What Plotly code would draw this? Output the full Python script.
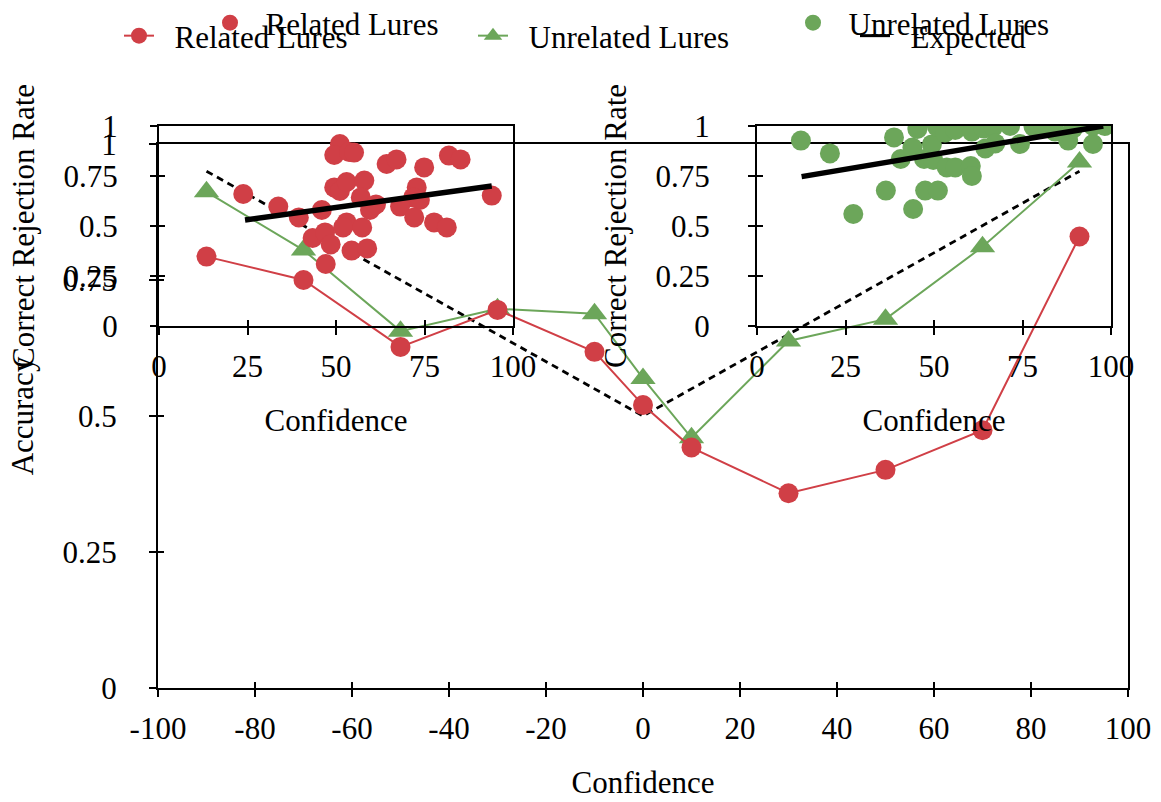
import plotly.graph_objects as go

# ---------------- data ----------------
confidence = [-90, -70, -50, -30, -10, 0, 10, 30, 50, 70, 90]
related_acc = [0.793, 0.750, 0.627, 0.695, 0.618, 0.520, 0.442, 0.358, 0.401, 0.474, 0.830]
unrelated_acc = [0.912, 0.805, 0.656, 0.697, 0.688, 0.569, 0.460, 0.638, 0.678, 0.811, 0.967]
expected_x = [-90, 0, 90]
expected_y = [0.95, 0.50, 0.95]

# inset 1: related lures, per-item confidence vs correct rejection rate
rel_conf = [23.8, 33.7, 39.5, 46.0, 43.4, 46.9, 48.5, 47.1, 51.1, 49.5, 53.7, 55.1,
            49.5, 51.1, 53.0, 58.0, 57.0, 59.6, 61.3, 53.0, 52.0, 57.4, 54.4, 58.8,
            64.3, 67.1, 74.9, 81.9, 85.2, 72.8, 71.8, 68.1, 73.7, 72.1, 77.7, 81.3, 94.0]
rel_crr = [0.660, 0.597, 0.543, 0.580, 0.440, 0.468, 0.408, 0.310, 0.910, 0.855, 0.870, 0.867,
           0.693, 0.675, 0.720, 0.727, 0.643, 0.580, 0.608, 0.518, 0.493, 0.493, 0.377, 0.388,
           0.810, 0.833, 0.793, 0.852, 0.833, 0.693, 0.643, 0.597, 0.630, 0.543, 0.518, 0.493, 0.652]
rel_fit_x = [24.3, 94.0]
rel_fit_y = [0.53, 0.70]

# inset 2: unrelated lures
unr_conf = [12.4, 20.6, 27.2, 36.4, 38.7, 40.6, 43.9, 44.1, 45.3, 47.2, 47.5, 49.4, 49.8,
            50.8, 51.1, 53.6, 56.0, 53.1, 56.0, 60.4, 60.7, 60.7, 64.0, 64.5, 66.8, 67.3,
            71.5, 74.3, 78.1, 80.9, 84.2, 87.9, 89.3, 94.9, 94.9, 98.2]
unr_crr = [0.927, 0.863, 0.560, 0.677, 0.943, 0.835, 0.892, 0.585, 0.985, 0.835, 0.677, 0.908, 0.830,
           0.997, 0.677, 0.793, 0.793, 0.967, 0.980, 0.800, 0.750, 0.972, 0.988, 0.888, 0.997, 0.913,
           1.000, 0.910, 0.997, 1.000, 0.972, 0.927, 0.988, 0.910, 1.000, 1.000]
unr_fit_x = [12.6, 97.8]
unr_fit_y = [0.747, 1.0]

x_tick_vals = [-100, -80, -60, -40, -20, 0, 20, 40, 60, 80, 100]
x_tick_labels = ["-100", "-80", "-60", "-40", "-20", "0", "20", "40", "60", "80", "100"]
inset_x_ticks = [0, 25, 50, 75, 100]
y_ticks = [0, 0.25, 0.5, 0.75, 1]

# ---------------- style ----------------
RED = "#D03F46"
GREEN = "#6CA65A"
FONT = "Liberation Serif"
FS = 31
NB = "\u00a0\u00a0"

W, H = 1161, 802
ML, MR, MT, MB = 158, 33, 126, 114
plot_w = W - ML - MR          # 970
plot_h = H - MT - MB          # 562


def px_x(px):
    return (px - ML) / plot_w


def px_y(py):
    return (H - MB - py) / plot_h


fig = go.Figure()

# main chart
fig.add_trace(go.Scatter(x=expected_x, y=expected_y, mode="lines", showlegend=False,
                         line=dict(color="black", width=2.8, dash="7px,5px"),
                         xaxis="x", yaxis="y"))
fig.add_trace(go.Scatter(x=[None], y=[None], mode="lines", name=NB + "Expected",
                         line=dict(color="black", width=3), legend="legend3",
                         xaxis="x", yaxis="y"))
fig.add_trace(go.Scatter(x=confidence, y=unrelated_acc, mode="lines+markers",
                         name=NB + "Unrelated Lures", legend="legend2",
                         line=dict(color=GREEN, width=2),
                         marker=dict(symbol="triangle-up", size=22, color=GREEN),
                         xaxis="x", yaxis="y"))
fig.add_trace(go.Scatter(x=confidence, y=related_acc, mode="lines+markers",
                         name=NB + "Related Lures", legend="legend",
                         line=dict(color=RED, width=2),
                         marker=dict(symbol="circle", size=20, color=RED),
                         xaxis="x", yaxis="y"))

# inset 1
fig.add_trace(go.Scatter(x=rel_conf, y=rel_crr, mode="markers", name=NB + "Related Lures",
                         legend="legend4", marker=dict(size=20, color=RED),
                         xaxis="x2", yaxis="y2"))
fig.add_trace(go.Scatter(x=rel_fit_x, y=rel_fit_y, mode="lines", showlegend=False,
                         line=dict(color="black", width=5.5), xaxis="x2", yaxis="y2"))

# inset 2
fig.add_trace(go.Scatter(x=unr_conf, y=unr_crr, mode="markers", name=NB + "Unrelated Lures",
                         legend="legend5", marker=dict(size=20, color=GREEN),
                         xaxis="x3", yaxis="y3"))
fig.add_trace(go.Scatter(x=unr_fit_x, y=unr_fit_y, mode="lines", showlegend=False,
                         line=dict(color="black", width=5.5), xaxis="x3", yaxis="y3"))

# empty traces that register the companion tick axes (inner half of crossing ticks)
for xa, ya in [("x4", "y4"), ("x5", "y5"), ("x6", "y6")]:
    fig.add_trace(go.Scatter(x=[None], y=[None], mode="markers", showlegend=False,
                             hoverinfo="skip", xaxis=xa, yaxis=ya))

axis_common = dict(showline=True, linecolor="black", linewidth=2, mirror=True,
                   showgrid=False, zeroline=False, ticks="outside", ticklen=7,
                   tickwidth=2, tickcolor="black", automargin=False,
                   tickfont=dict(family=FONT, size=FS, color="black"))
inner_ticks = dict(showline=False, showgrid=False, zeroline=False, ticks="inside", ticklen=6,
                   tickwidth=2, tickcolor="black", showticklabels=False, automargin=False)

ymain_top = 544 / plot_h
inset_y0 = px_y(326)

fig.update_layout(
    width=W, height=H,
    margin=dict(l=ML, r=MR, t=MT, b=MB, pad=0, autoexpand=False),
    paper_bgcolor="white", plot_bgcolor="rgba(0,0,0,0)",
    font=dict(family=FONT, size=FS, color="black"),
    xaxis=dict(domain=[0, 1], range=[-100, 100], tickvals=x_tick_vals, ticktext=x_tick_labels,
               ticklabelstandoff=5,
               title=dict(text="Confidence", standoff=26, font=dict(family=FONT, size=FS)),
               anchor="y", **axis_common),
    yaxis=dict(domain=[0, ymain_top], range=[0, 1], tickvals=y_ticks, ticklabelstandoff=26,
               title=dict(text="Accuracy", standoff=20, font=dict(family=FONT, size=FS)),
               anchor="x", **axis_common),
    xaxis2=dict(domain=[px_x(159), px_x(513)], range=[0, 100], tickvals=inset_x_ticks,
                ticklabelstandoff=5,
                title=dict(text="Confidence", standoff=26, font=dict(family=FONT, size=FS)),
                anchor="y2", **axis_common),
    yaxis2=dict(domain=[inset_y0, 1], range=[0, 1], tickvals=y_ticks, ticklabelstandoff=26,
                title=dict(text="Correct Rejection Rate", standoff=20, font=dict(family=FONT, size=FS)),
                anchor="x2", **axis_common),
    xaxis3=dict(domain=[px_x(757), px_x(1111)], range=[0, 100], tickvals=inset_x_ticks,
                ticklabelstandoff=5,
                title=dict(text="Confidence", standoff=26, font=dict(family=FONT, size=FS)),
                anchor="y3", **axis_common),
    yaxis3=dict(domain=[inset_y0, 1], range=[0, 1], tickvals=y_ticks, ticklabelstandoff=32,
                title=dict(text="Correct Rejection Rate", standoff=20, font=dict(family=FONT, size=FS)),
                anchor="x3", **axis_common),
    xaxis4=dict(overlaying="x", anchor="y", range=[-100, 100], tickvals=x_tick_vals, **inner_ticks),
    yaxis4=dict(overlaying="y", anchor="x", range=[0, 1], tickvals=y_ticks, **inner_ticks),
    xaxis5=dict(overlaying="x2", anchor="y2", range=[0, 100], tickvals=inset_x_ticks, **inner_ticks),
    yaxis5=dict(overlaying="y2", anchor="x2", range=[0, 1], tickvals=y_ticks, **inner_ticks),
    xaxis6=dict(overlaying="x3", anchor="y3", range=[0, 100], tickvals=inset_x_ticks, **inner_ticks),
    yaxis6=dict(overlaying="y3", anchor="x3", range=[0, 1], tickvals=y_ticks, **inner_ticks),
)

leg_common = dict(bgcolor="rgba(0,0,0,0)", borderwidth=0, orientation="h",
                  xanchor="left", yanchor="middle",
                  font=dict(family=FONT, size=FS, color="black"))
fig.update_layout(
    legend=dict(x=px_x(119), y=px_y(36), **leg_common),
    legend2=dict(x=px_x(473), y=px_y(36), **leg_common),
    legend3=dict(x=px_x(855), y=px_y(36), **leg_common),
    legend4=dict(x=px_x(210), y=px_y(23), **leg_common),
    legend5=dict(x=px_x(793), y=px_y(23), **leg_common),
)

fig.write_html("out.html")
